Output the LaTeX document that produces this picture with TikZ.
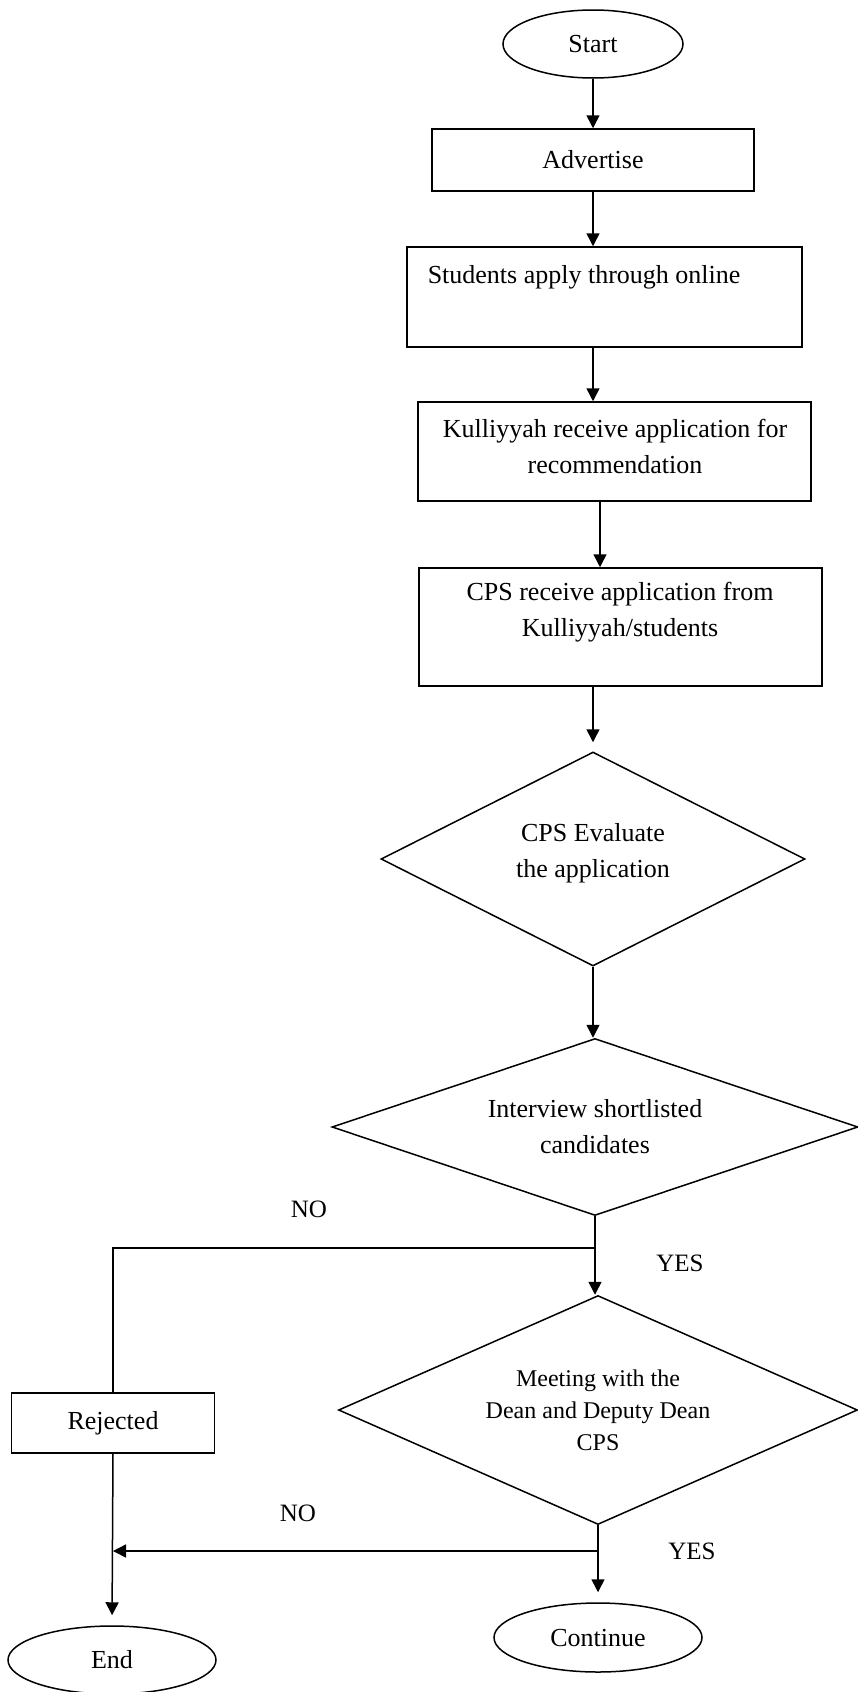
\documentclass[tikz,border=0pt]{standalone}
\usepackage{fontspec}
\setmainfont{Liberation Serif}
\usetikzlibrary{shapes.geometric,arrows.meta}
\begin{document}
\begin{tikzpicture}[x=1pt,y=-1pt,
  line width=1.5pt,
  txt/.style={font=\fontsize{26}{36}\selectfont, align=center, inner sep=0pt},
  box/.style={draw, rectangle, inner sep=0pt, font=\fontsize{26}{36}\selectfont, align=center},
  term/.style={draw, ellipse, inner sep=0pt, font=\fontsize{26}{36}\selectfont},
  dec/.style={draw, diamond, inner sep=0pt, font=\fontsize{26}{36}\selectfont, align=center},
  arr/.style={-{Triangle[length=13pt,width=13pt]}},
  lbl/.style={font=\fontsize{25}{30}\selectfont, inner sep=0pt}
]
\useasboundingbox (0,0) rectangle (858,1692);

% nodes
\node[term, minimum width=180, minimum height=68] (start) at (593,44) {Start};
\node[box, minimum width=322, minimum height=62] (adv) at (593,160) {Advertise};
\node[box, minimum width=395, minimum height=100] (stud) at (604.5,297) {};
\node[txt, anchor=west] (studtxt) at (427,277) {Students apply through online};
\node[box, minimum width=393, minimum height=99] (kull) at (614.5,451.5) {};
\node[txt] (kulltxt) at (615,446) {Kulliyyah receive application for\\recommendation};
\node[box, minimum width=403, minimum height=118] (cpsr) at (620.5,627) {};
\node[txt] (cpsrtxt) at (620,612) {CPS receive application from\\Kulliyyah/students};
\node[dec, minimum width=424, minimum height=214, aspect=1.98] (d1) at (593,859) {};
\node[txt] (d1txt) at (593,853) {CPS Evaluate\\the application};
\node[dec, minimum width=526, minimum height=177, aspect=2.97] (d2) at (595,1127) {Interview shortlisted\\candidates};
\node[dec, minimum width=519, minimum height=229, aspect=2.27,
      font=\fontsize{24}{32}\selectfont] (d3) at (598,1410) {Meeting with the\\Dean and Deputy Dean\\CPS};
\node[box, minimum width=203, minimum height=60] (rej) at (113,1423) {Rejected};
\node[term, minimum width=208, minimum height=69] (cont) at (598,1637.5) {Continue};
\node[term, minimum width=208, minimum height=68] (end) at (112,1660) {End};

% labels
\node[lbl] (no1) at (309,1209) {NO};
\node[lbl] (yes1) at (680,1263) {YES};
\node[lbl] (no2) at (298,1513) {NO};
\node[lbl] (yes2) at (692,1551) {YES};

% junctions
\coordinate (j1) at (595,1248);
\coordinate (j2) at (598,1551);

% connectors
\draw[arr] (start.south) -- (start.south |- adv.north);
\draw[arr] (adv.south) -- (adv.south |- stud.north);
\draw[arr] (stud.south -| adv.south) -- (kull.north -| adv.south);
\draw[arr] ([xshift=-14.5pt]kull.south) -- ([xshift=-14.5pt]kull.south |- cpsr.north);
\draw[arr, shorten >=9pt] (cpsr.south -| d1.north) -- (d1.north);
\draw[arr] (d1.south) -- (d1.south |- d2.north);
\draw[arr] (d2.south) -- (d2.south |- d3.north);
\draw (j1) -| (rej.north);
\draw[arr, shorten >=10pt] (rej.south) -- (end.north);
\draw[arr, shorten >=10pt] (d3.south) -- (cont.north);
\draw[arr] (j2) -- (j2 -| rej.south);
\end{tikzpicture}
\end{document}
